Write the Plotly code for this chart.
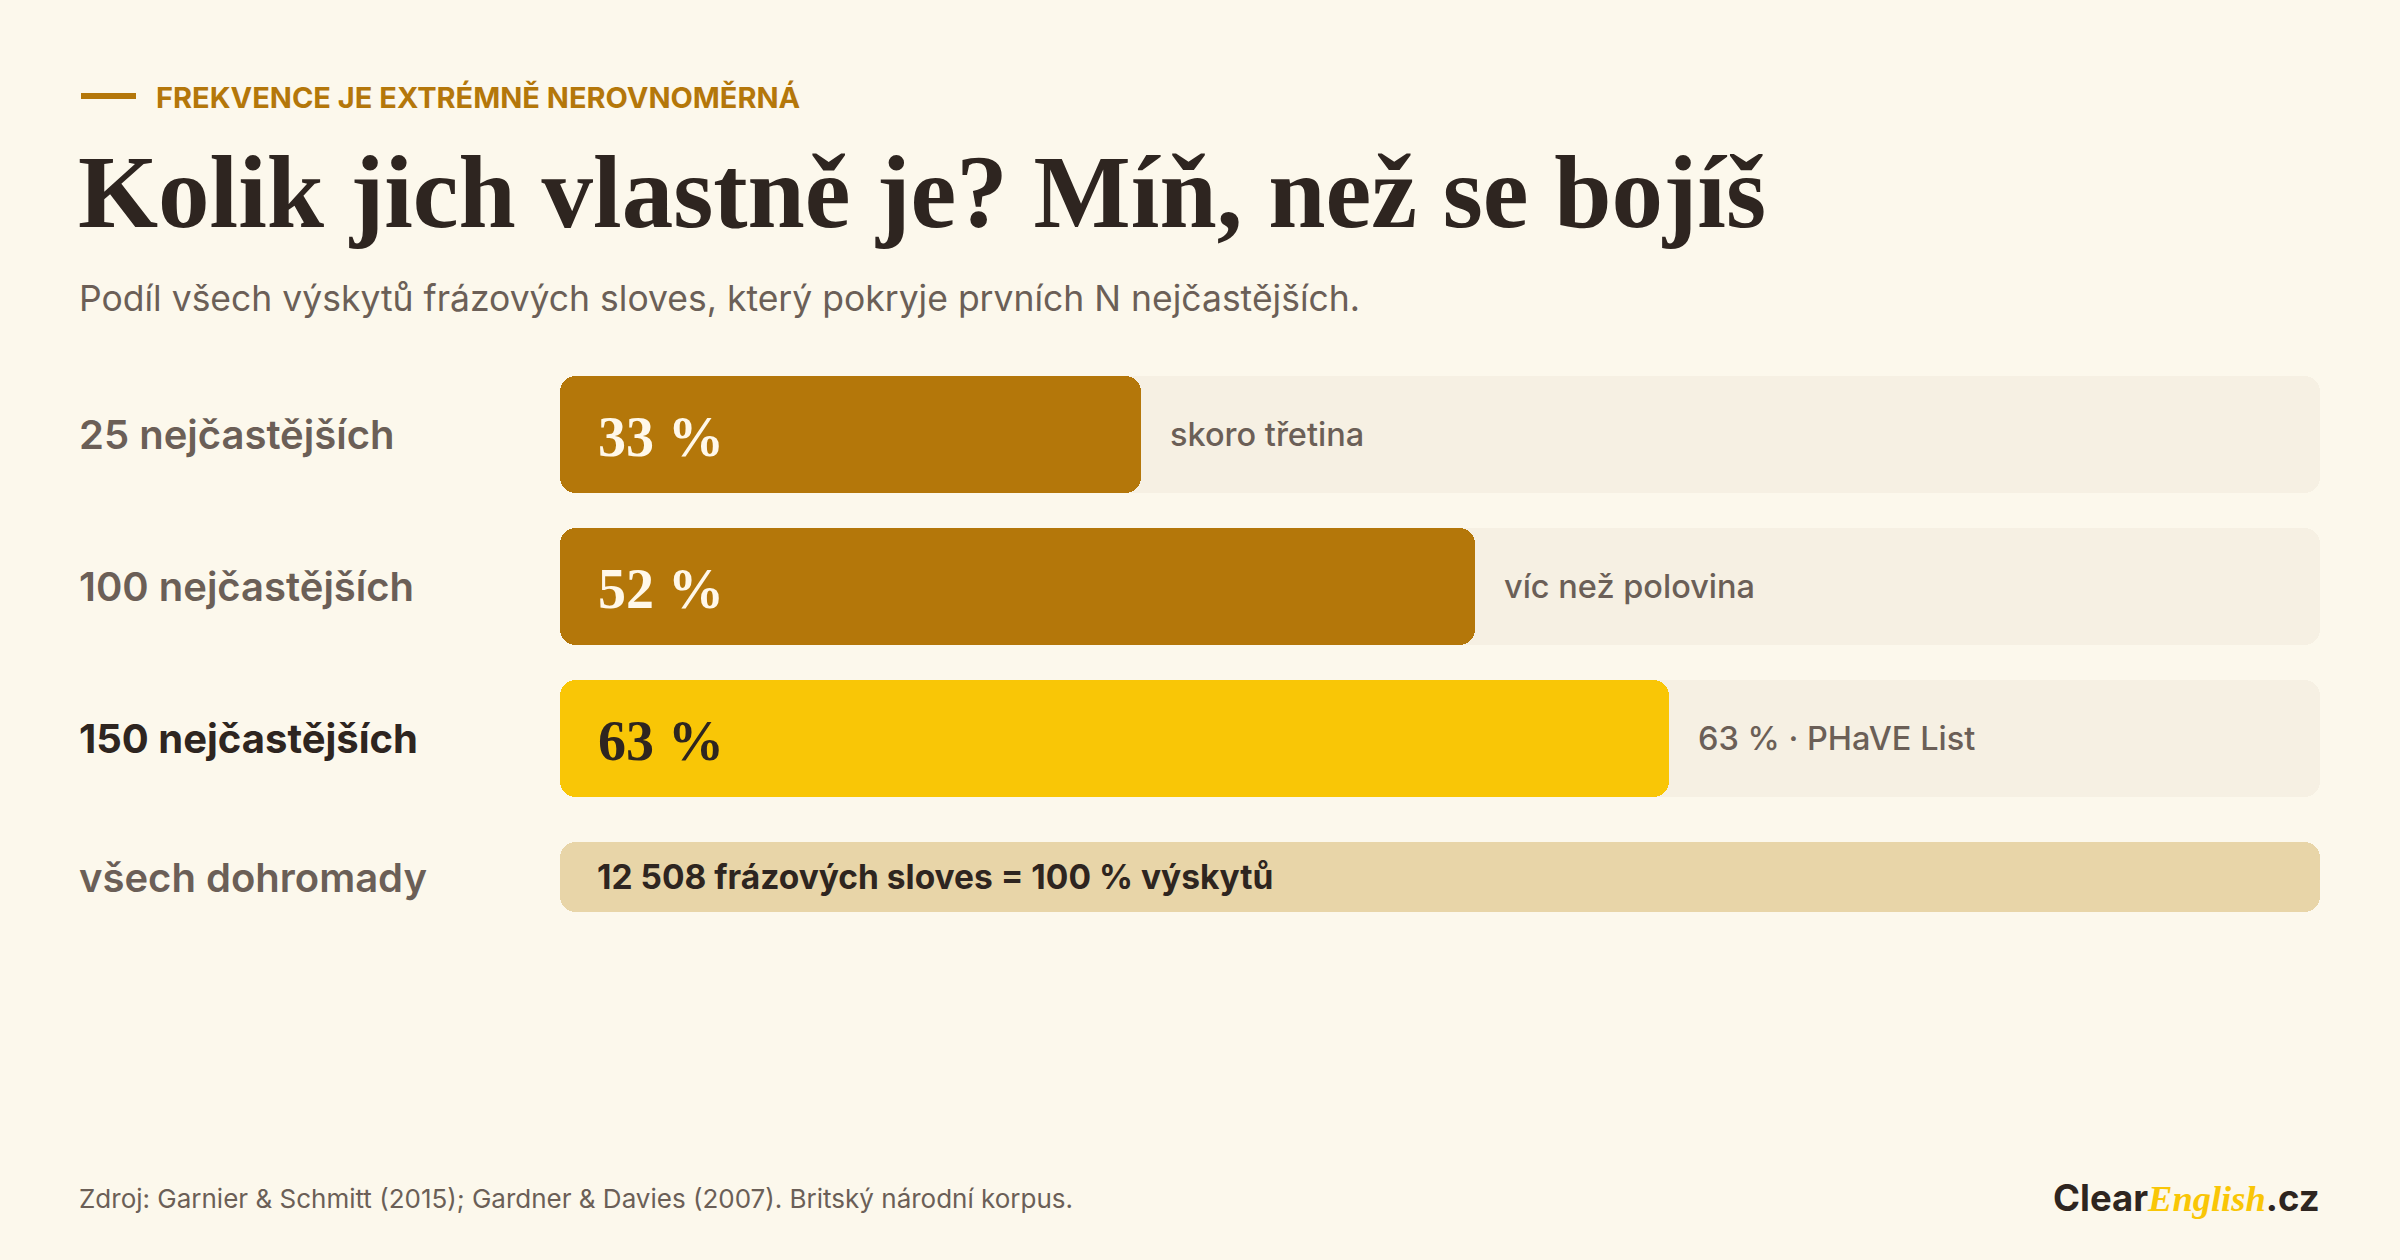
import plotly.graph_objects as go

# ---------------- data ----------------
categories = ["25 nejčastějších", "100 nejčastějších", "150 nejčastějších", "všech dohromady"]
values = [33, 52, 63]           # % share covered by first N
notes = ["skoro třetina", "víc než polovina", "63 % · PHaVE List"]
total_value = 100
total_text = "12 508 frázových sloves = 100 % výskytů"

kicker = "FREKVENCE JE EXTRÉMNĚ NEROVNOMĚRNÁ"
title = "Kolik jich vlastně je? Míň, než se bojíš"
subtitle = "Podíl všech výskytů frázových sloves, který pokryje prvních N nejčastějších."
source = "Zdroj: Garnier &amp; Schmitt (2015); Gardner &amp; Davies (2007). Britský národní korpus."

# ---------------- style ----------------
W, H = 2400, 1260
ML, MR, MT, MB = 560, 80, 360, 300
BG = "#FCF8EC"
TRACK = "#F6F0E3"
GOLD = "#B4770A"
YELLOW = "#F9C606"
TAN = "#E8D5A8"
DARK = "#2E2520"
GREY = "#6B5F57"
SANS = "Inter, 'Noto Sans', sans-serif"
SERIF = "'Liberation Serif', 'DejaVu Serif', serif"

fill_colors = [GOLD, GOLD, YELLOW]
value_font_colors = ["#FFF8EA", "#FFF8EA", DARK]
label_colors = [GREY, GREY, DARK, GREY]
label_weights = [600, 600, 700, 600]

PX_PER_ROW = 152.0
Y_TOP = -74.7 / PX_PER_ROW
Y_BOT = Y_TOP + (H - MT - MB) / PX_PER_ROW
BAR_W = 0.77
TOT_W = 0.463
TOT_CENTER = 2.91
RADIUS = 16
TEXT_LEFT = 77

n = len(values)
rows = list(range(n))
tot_row = n


def px_x(px):
    return (px - ML) / (W - ML - MR)


def px_y(py):
    return (H - MB - py) / (H - MT - MB)


fig = go.Figure()


def rounded_bar(y_list, start, end, color, width, offset=None):
    # two overlapping halves so both ends get rounded corners
    mids_a = [s + 0.3 * (e - s) for s, e in zip(start, end)]
    mids_b = [s + 0.7 * (e - s) for s, e in zip(start, end)]
    common = dict(orientation="h", marker=dict(color=color, cornerradius=RADIUS, line=dict(width=0)),
                  width=width, hoverinfo="skip", showlegend=False)
    if offset is not None:
        common["offset"] = offset
    fig.add_trace(go.Bar(y=y_list, base=mids_a, x=[e - m for e, m in zip(end, mids_a)], **common))
    fig.add_trace(go.Bar(y=y_list, base=mids_b, x=[s - m for s, m in zip(start, mids_b)], **common))


# tracks
rounded_bar(rows, [0] * n, [total_value] * n, TRACK, BAR_W)
# fills
for i in rows:
    rounded_bar([i], [0], [values[i]], fill_colors[i], BAR_W)
# total row
rounded_bar([tot_row], [0], [total_value], TAN, TOT_W, offset=TOT_CENTER - tot_row - TOT_W / 2)

annotations = []
# row labels
for i, cat in enumerate(categories):
    yy = i if i < n else TOT_CENTER
    annotations.append(dict(x=px_x(TEXT_LEFT), xref="paper", y=yy, yref="y", text=cat, showarrow=False,
                            xanchor="left", yanchor="middle",
                            font=dict(family=SANS, size=40, color=label_colors[i], weight=label_weights[i])))
# value labels and notes
for i in rows:
    annotations.append(dict(x=0, y=i, xref="x", yref="y", text=f"{values[i]} %", showarrow=False,
                            xanchor="left", yanchor="middle", xshift=36, yshift=-2,
                            font=dict(family=SERIF, size=56, color=value_font_colors[i], weight=700)))
    annotations.append(dict(x=values[i], y=i, xref="x", yref="y", text=notes[i], showarrow=False,
                            xanchor="left", yanchor="middle", xshift=27,
                            font=dict(family=SANS, size=32.5, color=GREY, weight=500)))
annotations.append(dict(x=0, y=TOT_CENTER, xref="x", yref="y", text=total_text, showarrow=False,
                        xanchor="left", yanchor="middle", xshift=35,
                        font=dict(family=SANS, size=33.5, color=DARK, weight=700)))

# header
annotations.append(dict(x=px_x(154), y=px_y(97), xref="paper", yref="paper", text=kicker, showarrow=False,
                        xanchor="left", yanchor="middle",
                        font=dict(family=SANS, size=29, color=GOLD, weight=700)))
annotations.append(dict(x=px_x(76), y=px_y(192), xref="paper", yref="paper", text=title, showarrow=False,
                        xanchor="left", yanchor="middle",
                        font=dict(family=SERIF, size=103, color=DARK, weight=700)))
annotations.append(dict(x=px_x(TEXT_LEFT), y=px_y(298), xref="paper", yref="paper", text=subtitle, showarrow=False,
                        xanchor="left", yanchor="middle",
                        font=dict(family=SANS, size=35.5, color=GREY, weight=400)))
# footer
annotations.append(dict(x=px_x(TEXT_LEFT), y=px_y(1198), xref="paper", yref="paper", text=source, showarrow=False,
                        xanchor="left", yanchor="middle",
                        font=dict(family=SANS, size=26, color=GREY, weight=400)))
logo = ("<span style='font-family:Inter;font-weight:700'>Clear</span>"
        f"<span style='font-family:Liberation Serif;font-style:italic;font-weight:700;color:{YELLOW}'>English</span>"
        "<span style='font-family:Inter;font-weight:700'>.cz</span>")
annotations.append(dict(x=px_x(2322), y=px_y(1198), xref="paper", yref="paper", text=logo, showarrow=False,
                        xanchor="right", yanchor="middle",
                        font=dict(family=SANS, size=36.5, color=DARK, weight=700)))

fig.update_layout(
    width=W, height=H,
    margin=dict(l=ML, r=MR, t=MT, b=MB, pad=0),
    paper_bgcolor=BG, plot_bgcolor=BG,
    barmode="overlay", bargap=0,
    showlegend=False,
    xaxis=dict(range=[0, total_value], visible=False, fixedrange=True),
    yaxis=dict(range=[Y_BOT, Y_TOP], visible=False, fixedrange=True),
    annotations=annotations,
    shapes=[dict(type="line", xref="paper", yref="paper", x0=px_x(81), x1=px_x(136), y0=px_y(96), y1=px_y(96),
                 line=dict(color=GOLD, width=6))],
)

fig.write_html(
    "out.html",
    config={"displayModeBar": False},
    post_script="document.body.style.margin='0';document.body.style.padding='0';"
                "document.body.style.overflow='hidden';document.body.style.background='" + BG + "';",
)
